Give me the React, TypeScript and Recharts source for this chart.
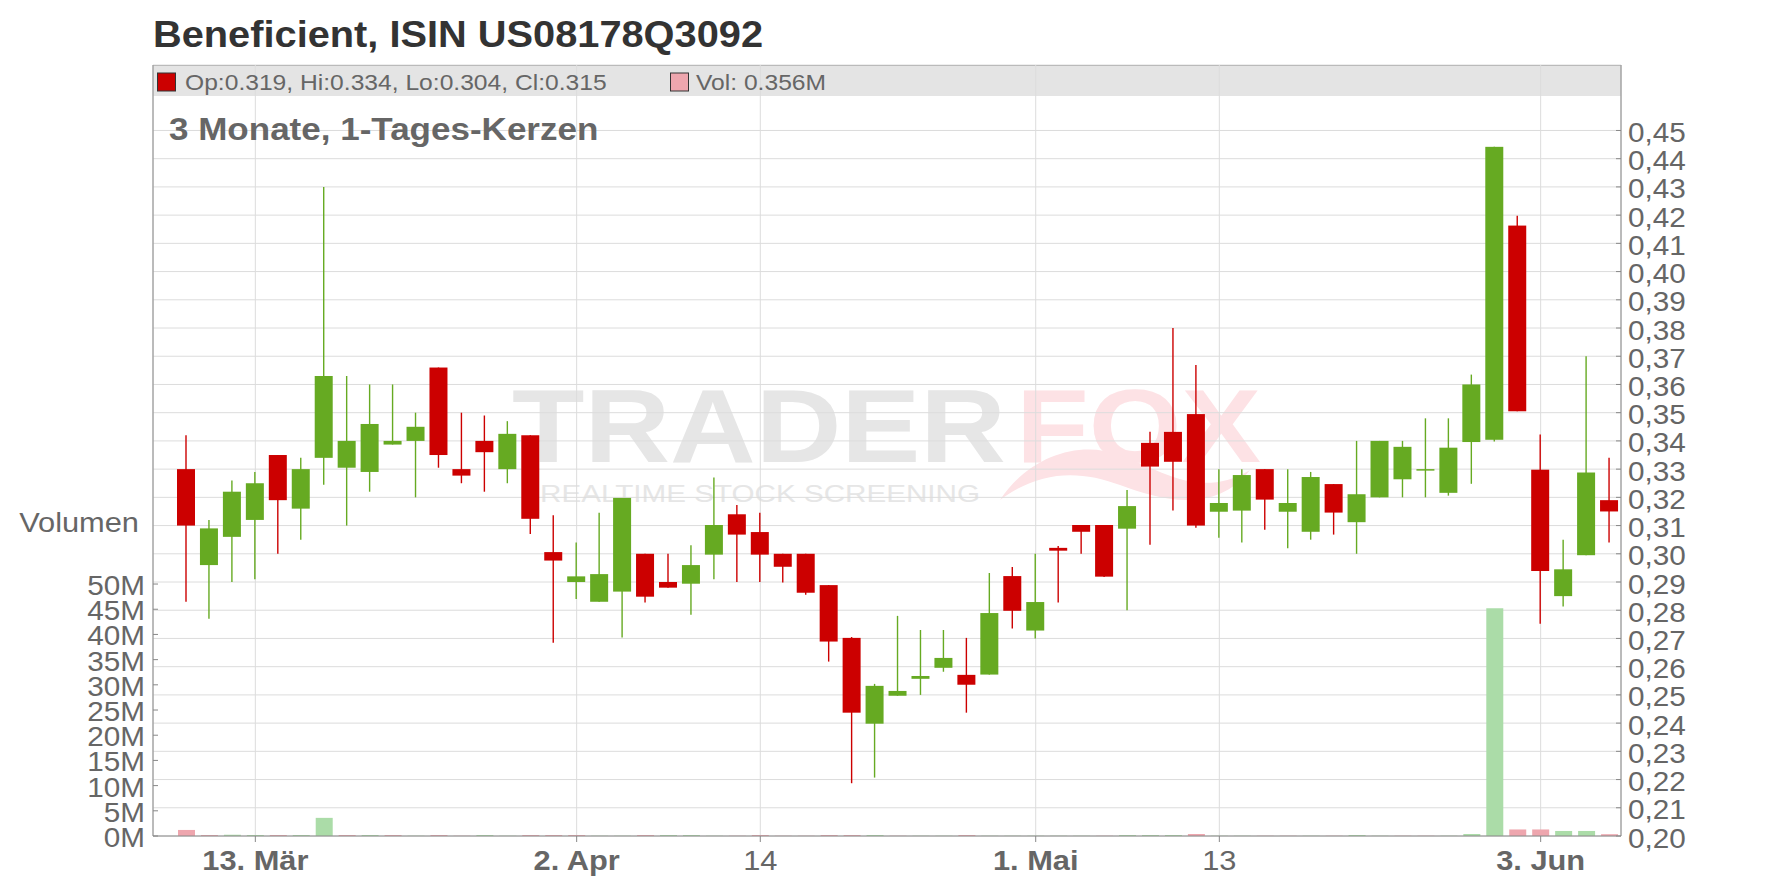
import React from "react";
import { Bar, CartesianGrid, Cell, ComposedChart, XAxis, YAxis } from "recharts";

// trading days, 10 Mar – 6 Jun 2025
const dates = [
  "03-10", "03-11", "03-12", "03-13", "03-14", "03-17", "03-18", "03-19", "03-20", "03-21",
  "03-24", "03-25", "03-26", "03-27", "03-28", "03-31", "04-01", "04-02", "04-03", "04-04",
  "04-07", "04-08", "04-09", "04-10", "04-11", "04-14", "04-15", "04-16", "04-17", "04-21",
  "04-22", "04-23", "04-24", "04-25", "04-28", "04-29", "04-30", "05-01", "05-02", "05-05",
  "05-06", "05-07", "05-08", "05-09", "05-12", "05-13", "05-14", "05-15", "05-16", "05-19",
  "05-20", "05-21", "05-22", "05-23", "05-27", "05-28", "05-29", "05-30", "06-02", "06-03",
  "06-04", "06-05", "06-06",
];

const opens = [
  0.33, 0.296, 0.306, 0.312, 0.335, 0.316, 0.334, 0.3305, 0.329, 0.3387,
  0.34, 0.366, 0.33, 0.34, 0.33, 0.342, 0.3006, 0.29, 0.283, 0.2866,
  0.3, 0.29, 0.2894, 0.2997, 0.314, 0.3077, 0.3, 0.3, 0.2889, 0.2702,
  0.2398, 0.2497, 0.2557, 0.2596, 0.2571, 0.2572, 0.2921, 0.2728, 0.3021, 0.3102,
  0.3102, 0.3089, 0.3393, 0.3432, 0.3495, 0.3149, 0.3153, 0.33, 0.3149, 0.3078,
  0.3247, 0.3112, 0.32, 0.3264, 0.33, 0.3216, 0.3396, 0.3404, 0.4163, 0.3298,
  0.285, 0.2995, 0.319,
];
const highs = [
  0.342, 0.312, 0.326, 0.329, 0.335, 0.334, 0.43, 0.363, 0.36, 0.36,
  0.35, 0.366, 0.35, 0.349, 0.347, 0.342, 0.3137, 0.304, 0.3145, 0.3198,
  0.3, 0.3, 0.303, 0.327, 0.3173, 0.3145, 0.3, 0.3, 0.2889, 0.2705,
  0.2539, 0.278, 0.273, 0.273, 0.2702, 0.2932, 0.2953, 0.3, 0.3028, 0.3102,
  0.3102, 0.3226, 0.3432, 0.38, 0.3669, 0.33, 0.33, 0.33, 0.33, 0.329,
  0.3247, 0.34, 0.34, 0.34, 0.348, 0.348, 0.3635, 0.4442, 0.4198, 0.3423,
  0.305, 0.37, 0.334,
];
const lows = [
  0.283, 0.277, 0.29, 0.291, 0.3, 0.305, 0.3245, 0.31, 0.322, 0.3387,
  0.32, 0.3305, 0.325, 0.322, 0.325, 0.307, 0.2685, 0.284, 0.283, 0.2703,
  0.2827, 0.288, 0.2784, 0.291, 0.29, 0.29, 0.2898, 0.2855, 0.2618, 0.2187,
  0.2207, 0.2497, 0.25, 0.2582, 0.2437, 0.2572, 0.2735, 0.27, 0.2827, 0.3,
  0.2918, 0.28, 0.3032, 0.3153, 0.3092, 0.3057, 0.304, 0.3085, 0.302, 0.305,
  0.3068, 0.3, 0.32, 0.32, 0.32, 0.3206, 0.3248, 0.3398, 0.3505, 0.2752,
  0.2813, 0.2995, 0.304,
];
const closes = [
  0.31, 0.309, 0.322, 0.325, 0.319, 0.33, 0.363, 0.34, 0.346, 0.34,
  0.345, 0.335, 0.3277, 0.336, 0.3425, 0.3124, 0.2976, 0.292, 0.2928, 0.3198,
  0.2848, 0.288, 0.296, 0.3102, 0.3068, 0.2997, 0.2954, 0.2862, 0.2689, 0.2437,
  0.2532, 0.2514, 0.2567, 0.2631, 0.2536, 0.279, 0.2798, 0.2829, 0.3011, 0.3078,
  0.2919, 0.3169, 0.3309, 0.3326, 0.31, 0.318, 0.3279, 0.3192, 0.318, 0.3272,
  0.3146, 0.3211, 0.34, 0.3379, 0.33, 0.3376, 0.36, 0.4442, 0.3505, 0.2939,
  0.2945, 0.3288, 0.315,
];
// volume in millions
const volumes = [
  1.2, 0.2, 0.25, 0.2, 0.2, 0.2, 3.6, 0.2, 0.2, 0.2,
  0.05, 0.2, 0.05, 0.2, 0.05, 0.2, 0.2, 0.2, 0.05, 0.05,
  0.2, 0.2, 0.2, 0.05, 0.05, 0.2, 0.05, 0.05, 0.2, 0.2,
  0.2, 0.05, 0.05, 0.05, 0.2, 0.05, 0.05, 0.05, 0.05, 0.05,
  0.05, 0.2, 0.2, 0.2, 0.4, 0.05, 0.05, 0.05, 0.05, 0.05,
  0.05, 0.2, 0.05, 0.05, 0.05, 0.05, 0.4, 45.2, 1.3, 1.3,
  1.0, 1.0, 0.356,
];

const xTicks = ["03-13", "04-02", "04-14", "05-01", "05-13", "06-03"];
const xTickLabels: Record<string, string> = {
  "03-13": "13. Mär",
  "04-02": "2. Apr",
  "04-14": "14",
  "05-01": "1. Mai",
  "05-13": "13",
  "06-03": "3. Jun",
};
const boldTicks = ["03-13", "04-02", "05-01", "06-03"];
const priceTicks = [
  0.2, 0.21, 0.22, 0.23, 0.24, 0.25, 0.26, 0.27, 0.28, 0.29, 0.3, 0.31, 0.32,
  0.33, 0.34, 0.35, 0.36, 0.37, 0.38, 0.39, 0.4, 0.41, 0.42, 0.43, 0.44, 0.45,
];
const volTicks = [0, 5, 10, 15, 20, 25, 30, 35, 40, 45, 50];

const W = 1776;
const H = 888;
const PL = 153;
const PR = 1621;
const PT = 65;
const PB = 836;
const SX = 1.1;
const FONT = "'Liberation Sans', Arial, sans-serif";

const GREEN = "#66aa22";
const RED = "#cc0000";
const VOL_GREEN = "#abdca8";
const VOL_RED = "#eea6ae";
const GREY = "#666";

const rows = dates.map((date, i) => ({
  date,
  open: opens[i],
  high: highs[i],
  low: lows[i],
  close: closes[i],
  range: [lows[i], highs[i]],
  vol: volumes[i],
}));

const Candle = (props: any) => {
  const { x, y, width, height, payload } = props;
  const { open, close, high, low } = payload;
  const top = Math.min(y, y + height);
  const h = Math.abs(height);
  const px = (v: number) => top + ((high - v) / (high - low)) * h;
  const color = close >= open ? GREEN : RED;
  const cx = x + width / 2;
  const bTop = px(Math.max(open, close));
  const bBot = px(Math.min(open, close));
  return (
    <g>
      <line x1={cx} x2={cx} y1={top} y2={top + h} stroke={color} strokeWidth={1.4} />
      <rect x={x} y={bTop} width={width} height={Math.max(bBot - bTop, 1.5)} fill={color} />
    </g>
  );
};

const XTick = (props: any) => {
  const { x, payload } = props;
  const bold = boldTicks.includes(payload.value);
  return (
    <g>
      <line x1={x} x2={x} y1={PB} y2={PB + 6} stroke="#888" />
      <text
        transform={`translate(${x},870) scale(${SX},1)`}
        textAnchor="middle"
        fontSize={28}
        fontWeight={bold ? "bold" : "normal"}
        fontFamily={FONT}
        fill={GREY}
      >
        {xTickLabels[payload.value]}
      </text>
    </g>
  );
};

const PriceTick = (props: any) => {
  const { y, payload } = props;
  return (
    <g>
      <line x1={PR - 5} x2={PR} y1={y} y2={y} stroke="#888" />
      <text
        transform={`translate(${PR + 7},${y + 11.5}) scale(${SX},1)`}
        fontSize={27}
        fontFamily={FONT}
        fill={GREY}
      >
        {payload.value.toFixed(2).replace(".", ",")}
      </text>
    </g>
  );
};

const VolTick = (props: any) => {
  const { y, payload } = props;
  return (
    <g>
      <line x1={PL} x2={PL + 5} y1={y} y2={y} stroke="#888" />
      <text
        transform={`translate(${PL - 8},${y + 11}) scale(${SX},1)`}
        textAnchor="end"
        fontSize={27}
        fontFamily={FONT}
        fill={GREY}
      >
        {payload.value}M
      </text>
    </g>
  );
};

export default function App() {
  const last = rows[rows.length - 1];
  const legendText = `Op:${last.open.toFixed(3)}, Hi:${last.high.toFixed(3)}, Lo:${last.low.toFixed(3)}, Cl:${last.close.toFixed(3)}`;

  return (
    <div style={{ position: "absolute", left: 0, top: 0, width: W, height: H, background: "#fff", overflow: "hidden" }}>
      {/* background: legend strip + watermark */}
      <svg width={W} height={H} style={{ position: "absolute", left: 0, top: 0 }}>
        <rect x={PL} y={PT} width={PR - PL} height={31} fill="#e4e4e4" />
        <line x1={PL} x2={PR} y1={PT + 0.5} y2={PT + 0.5} stroke="#999" />
        <g fontFamily={FONT} fontWeight="bold">
          <text x={512} y={462} fontSize={103} fill="#e6e6e6" textLength={494} lengthAdjust="spacingAndGlyphs">
            TRADER
          </text>
          <text x={1016} y={462} fontSize={103} fill="#fde2e5" textLength={245} lengthAdjust="spacingAndGlyphs">
            FOX
          </text>
        </g>
        <path
          d="M1000,500 C1030,455 1080,440 1120,455 C1160,470 1200,500 1250,470 C1215,515 1160,500 1120,485 C1080,470 1040,470 1000,500 Z"
          fill="#fde2e5"
        />
        <text
          x={540}
          y={502}
          fontSize={24}
          fontFamily={FONT}
          fill="#e6e6e6"
          textLength={440}
          lengthAdjust="spacingAndGlyphs"
        >
          REALTIME STOCK SCREENING
        </text>
      </svg>

      <div style={{ position: "absolute", left: 0, top: 0 }}>
        <ComposedChart width={W} height={H} data={rows} margin={{ top: PT, right: 0, bottom: 0, left: 8 }}>
          <CartesianGrid xAxisId="x" yAxisId="price" stroke="#dcdcdc" />
          <XAxis
            xAxisId="x"
            dataKey="date"
            ticks={xTicks}
            interval={0}
            padding={{ left: 22, right: 0 }}
            height={52}
            axisLine={{ stroke: "#888" }}
            tickLine={false}
            tick={<XTick />}
          />
          <XAxis xAxisId="xv" dataKey="date" hide padding={{ left: 22, right: 0 }} />
          <YAxis
            yAxisId="price"
            orientation="right"
            width={155}
            type="number"
            domain={[0.2, 0.4732]}
            ticks={priceTicks}
            interval={0}
            axisLine={{ stroke: "#888" }}
            tickLine={false}
            tick={<PriceTick />}
          />
          <YAxis
            yAxisId="vol"
            orientation="left"
            width={145}
            type="number"
            domain={[0, 153]}
            ticks={volTicks}
            interval={0}
            axisLine={{ stroke: "#888" }}
            tickLine={false}
            tick={<VolTick />}
          />
          <Bar xAxisId="xv" yAxisId="vol" dataKey="vol" barSize={17} isAnimationActive={false}>
            {rows.map((r, i) => {
              const up = i === 0 ? r.close >= r.open : r.close >= rows[i - 1].close;
              return <Cell key={r.date} fill={up ? VOL_GREEN : VOL_RED} />;
            })}
          </Bar>
          <Bar
            xAxisId="x"
            yAxisId="price"
            dataKey="range"
            barSize={18}
            shape={Candle}
            isAnimationActive={false}
          />
        </ComposedChart>
      </div>

      {/* foreground texts */}
      <svg width={W} height={H} style={{ position: "absolute", left: 0, top: 0, pointerEvents: "none" }}>
        <g fontFamily={FONT}>
          <text transform={`translate(153,46.5) scale(1.09,1)`} fontSize={36.5} fontWeight="bold" fill="#333">
            Beneficient, ISIN US08178Q3092
          </text>
          <rect x={157.5} y={73} width={18} height={18} fill={RED} stroke="#333" />
          <text transform={`translate(185,90) scale(1.12,1)`} fontSize={22} fill={GREY}>
            {legendText}
          </text>
          <rect x={670.5} y={73} width={18} height={18} fill={VOL_RED} stroke="#333" />
          <text transform={`translate(696,90) scale(1.12,1)`} fontSize={22} fill={GREY}>
            {`Vol: ${last.vol.toFixed(3)}M`}
          </text>
          <text transform={`translate(169,140) scale(1.13,1)`} fontSize={31} fontWeight="bold" fill={GREY}>
            3 Monate, 1-Tages-Kerzen
          </text>
          <text transform={`translate(139,531.5) scale(${SX},1)`} textAnchor="end" fontSize={28} fill={GREY}>
            Volumen
          </text>
        </g>
      </svg>
    </div>
  );
}
